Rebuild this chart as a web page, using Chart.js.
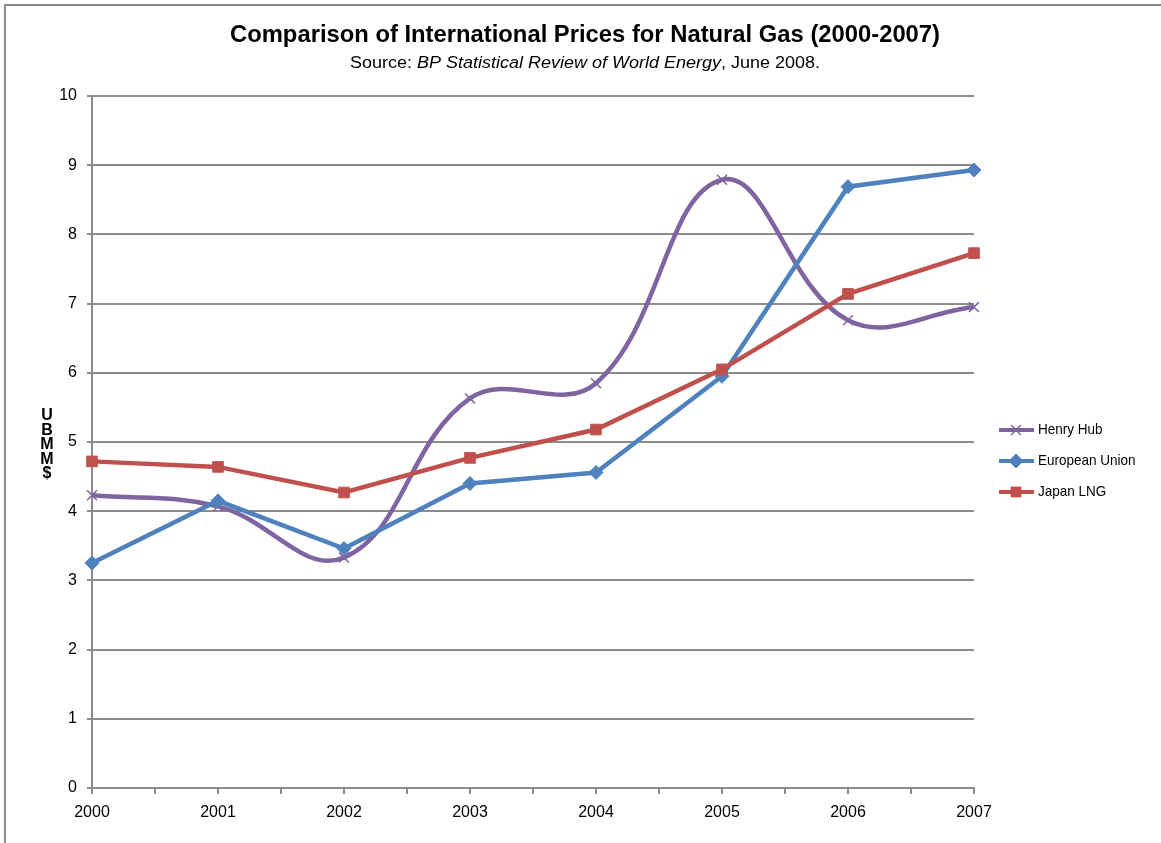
<!DOCTYPE html>
<html>
<head>
<meta charset="utf-8">
<title>Natural Gas Prices</title>
<script src="https://cdn.jsdelivr.net/npm/chart.js@4.4.1/dist/chart.umd.min.js"></script>
<style>
  html, body { margin: 0; padding: 0; background: #fff; }
  canvas { display: block; }
</style>
</head>
<body>
<canvas id="gas-chart" width="1161" height="843"></canvas>
<script>
'use strict';

// data (US$ per MMBtu)
let years = [2000, 2001, 2002, 2003, 2004, 2005, 2006, 2007];
let henryHub = [4.23, 4.07, 3.33, 5.63, 5.85, 8.79, 6.76, 6.95];
let europeanUnion = [3.25, 4.15, 3.46, 4.40, 4.56, 5.95, 8.69, 8.93];
let japanLng = [4.72, 4.64, 4.27, 4.77, 5.18, 6.05, 7.14, 7.73];
let yTicks = [0, 1, 2, 3, 4, 5, 6, 7, 8, 9, 10];
let seriesNames = ['Henry Hub', 'European Union', 'Japan LNG'];
let yTitleLetters = ['U', 'B', 'M', 'M', '$'];

let purple = '#8064a2';
let blue = '#4f81bd';
let red = '#c0504d';
let gridGray = '#8c8c8c';

function toPoints(values) {
  let pts = [];
  for (let i = 0; i < years.length; i++) {
    pts.push({ x: years[i], y: values[i] });
  }
  return pts;
}

// draws frame, titles, the stacked y label and the legend
let decorations = {
  id: 'decorations',
  beforeDraw(chart) {
    let ctx = chart.ctx;
    ctx.save();
    ctx.fillStyle = '#fff';
    ctx.fillRect(0, 0, chart.width, chart.height);
    ctx.strokeStyle = gridGray;
    ctx.lineWidth = 2;
    ctx.strokeRect(5, 5, chart.width + 20, chart.height + 20);
    ctx.restore();
  },
  afterDraw(chart) {
    let ctx = chart.ctx;
    let cx = 585;
    ctx.save();
    ctx.fillStyle = '#000';
    ctx.textBaseline = 'alphabetic';

    // title, squeezed like the narrow font in the reference
    ctx.font = 'bold 24px "Liberation Sans", Arial, sans-serif';
    let title = 'Comparison of International Prices for Natural Gas (2000-2007)';
    let tw = ctx.measureText(title).width;
    let sx = 710 / tw;
    ctx.save();
    ctx.translate(cx - 355, 42);
    ctx.scale(sx, 1);
    ctx.fillText(title, 0, 0);
    ctx.restore();

    // subtitle with italic part
    let parts = [
      ['Source: ', '16px "Liberation Sans", Arial, sans-serif'],
      ['BP Statistical Review of World Energy', 'italic 16px "Liberation Sans", Arial, sans-serif'],
      [', June 2008.', '16px "Liberation Sans", Arial, sans-serif']
    ];
    let total = 0;
    for (let p of parts) {
      ctx.font = p[1];
      total += ctx.measureText(p[0]).width;
    }
    let ssx = 470 / total;
    ctx.save();
    ctx.translate(cx - 235, 68);
    ctx.scale(ssx, 1);
    let px = 0;
    for (let p of parts) {
      ctx.font = p[1];
      ctx.fillText(p[0], px, 0);
      px += ctx.measureText(p[0]).width;
    }
    ctx.restore();

    // stacked y-axis title
    ctx.font = 'bold 16px "Liberation Sans", Arial, sans-serif';
    ctx.textAlign = 'center';
    for (let i = 0; i < yTitleLetters.length; i++) {
      ctx.fillText(yTitleLetters[i], 47, 420 + i * 14.5);
    }

    // legend: line sample with marker
    let colors = [purple, blue, red];
    let styles = ['crossRot', 'rectRot', 'rect'];
    ctx.textAlign = 'left';
    ctx.textBaseline = 'middle';
    for (let i = 0; i < seriesNames.length; i++) {
      let y = 430 + i * 31;
      ctx.strokeStyle = colors[i];
      ctx.lineWidth = 4;
      ctx.beginPath();
      ctx.moveTo(999, y);
      ctx.lineTo(1034, y);
      ctx.stroke();
      ctx.fillStyle = colors[i];
      ctx.lineWidth = i === 0 ? 1.5 : 1;
      Chart.helpers.drawPoint(ctx, { pointStyle: styles[i], radius: 7, borderWidth: ctx.lineWidth }, 1016, y);
      ctx.fillStyle = '#000';
      ctx.font = '15px "Liberation Sans", Arial, sans-serif';
      ctx.save();
      ctx.translate(1038, y);
      ctx.scale(0.9, 1);
      ctx.fillText(seriesNames[i], 0, 0);
      ctx.restore();
    }
    ctx.restore();
  }
};

let chartObj = {
  type: 'line',
  data: {
    datasets: [{
      label: seriesNames[0],
      data: toPoints(henryHub),
      borderColor: purple,
      backgroundColor: purple,
      borderWidth: 4.5,
      tension: 0.4,
      pointStyle: 'crossRot',
      pointRadius: 7,
      pointBorderWidth: 1.5,
      clip: false,
      order: 3
    },
    {
      label: seriesNames[1],
      data: toPoints(europeanUnion),
      borderColor: blue,
      backgroundColor: blue,
      borderWidth: 4.5,
      tension: 0,
      pointStyle: 'rectRot',
      pointRadius: 7,
      pointBorderWidth: 1,
      clip: false,
      order: 2
    },
    {
      label: seriesNames[2],
      data: toPoints(japanLng),
      borderColor: red,
      backgroundColor: red,
      borderWidth: 4.5,
      tension: 0,
      pointStyle: 'rect',
      pointRadius: 7.5,
      pointBorderWidth: 1,
      clip: false,
      order: 1
    }]
  },
  options: {
    responsive: false,
    animation: false,
    devicePixelRatio: 1,
    layout: {
      padding: { top: 96, right: 187, bottom: 0, left: 0 }
    },
    scales: {
      x: {
        type: 'linear',
        min: years[0],
        max: years[years.length - 1],
        afterFit(scale) { scale.height = 55; },
        afterBuildTicks(scale) {
          let t = [];
          for (let v = years[0]; v <= years[years.length - 1]; v += 0.5) t.push({ value: v });
          scale.ticks = t;
        },
        grid: {
          drawOnChartArea: false,
          color: gridGray,
          lineWidth: 2,
          tickLength: 6
        },
        border: { color: gridGray, width: 2 },
        ticks: {
          autoSkip: false,
          maxRotation: 0,
          padding: 9,
          color: '#000',
          font: { family: '"Liberation Sans", Arial, sans-serif', size: 16 },
          callback: (v) => (v % 1 === 0 ? String(v) : '')
        }
      },
      y: {
        min: yTicks[0],
        max: yTicks[yTicks.length - 1],
        afterFit(scale) { scale.width = 92; },
        afterBuildTicks(scale) {
          scale.ticks = yTicks.map((v) => ({ value: v }));
        },
        grid: {
          color: gridGray,
          lineWidth: 2,
          tickLength: 5
        },
        border: { color: gridGray, width: 2 },
        ticks: {
          padding: 10,
          color: '#000',
          font: { family: '"Liberation Sans", Arial, sans-serif', size: 16 }
        }
      }
    },
    plugins: {
      legend: { display: false },
      title: { display: false },
      tooltip: { enabled: false }
    }
  },
  plugins: [decorations]
};

new Chart(document.getElementById('gas-chart'), chartObj); //eslint-disable-line
</script>
</body>
</html>
